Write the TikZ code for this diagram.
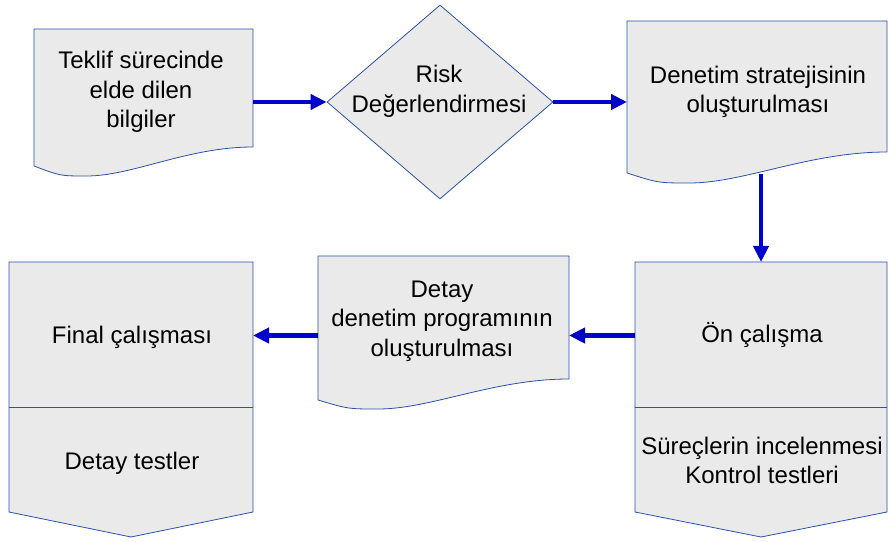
\documentclass[tikz,border=0pt]{standalone}
\usepackage{fontspec}
\setmainfont{Liberation Sans}
\usepackage{xcolor}
\usetikzlibrary{positioning, arrows.meta, shapes.geometric, calc}

\definecolor{boxgray}{RGB}{234,234,234}
\definecolor{edgeblue}{RGB}{45,80,170}
\definecolor{flowblue}{RGB}{0,0,204}

% document outline with a wavy bottom edge: node, left drop, low drop
\newcommand{\docoutline}[3]{%
  \path[shapebox] (#1.north west) -- (#1.north east) -- (#1.south east)
    .. controls ($(#1.south east)!0.3!(#1.south west)$) and ($(#1.south west)!0.45!(#1.south east)+(0,-#3)$)
    .. ($(#1.south west)!0.24!(#1.south east)+(0,-#3)$)
    .. controls ($(#1.south west)!0.12!(#1.south east)+(0,-#3)$)
    .. ($(#1.south west)+(0,-#2)$) -- cycle;
}
% outline with a pointed bottom and a divider: node, point depth, divider offset
\newcommand{\penoutline}[3]{%
  \path[shapebox] (#1.north west) -- (#1.north east) -- (#1.south east)
    -- ($(#1.south)+(0,-#2)$) -- (#1.south west) -- cycle;
  \draw[edge] ($(#1.west)+(0,#3)$) -- ($(#1.east)+(0,#3)$);
}

\begin{document}
\begin{tikzpicture}[
    x=1pt, y=1pt,
    every node/.style={font=\fontsize{24}{29.5}\selectfont},
    body/.style={rectangle, inner sep=0pt, outer sep=0pt},
    shapebox/.style={draw=edgeblue, fill=boxgray, line width=0.8pt},
    edge/.style={draw=edgeblue, line width=0.8pt},
    lbl/.style={align=center, inner sep=0pt, text=black},
    flow/.style={-{Triangle[length=16pt, width=15pt]}, line width=4.5pt, flowblue},
  ]
  \useasboundingbox (0,0) rectangle (888,541);

  % ---- Top row ----
  \node[body, minimum width=219pt, minimum height=118pt] (teklif) at (143.5,453) {};
  \node[diamond, shapebox, minimum width=226pt, minimum height=194pt, inner sep=0pt] (risk) at (440,439) {};
  \node[body, minimum width=260pt, minimum height=131pt] (strateji) at (757,454.5) {};

  % ---- Bottom row ----
  \node[body, minimum width=244pt, minimum height=250pt] (final) at (131,154) {};
  \node[body, minimum width=251pt, minimum height=123pt] (detay) at (443.5,223.5) {};
  \node[body, minimum width=252pt, minimum height=250pt] (on) at (761,154) {};

  % ---- Outlines ----
  \docoutline{teklif}{19}{29}
  \docoutline{strateji}{21}{31}
  \docoutline{detay}{21}{30}
  \penoutline{final}{25}{-20}
  \penoutline{on}{25}{-20}

  % ---- Labels ----
  \node[lbl] (teklifl) at (141,448.75) {Teklif sürecinde\\elde dilen\\bilgiler};
  \node[lbl] (riskl) at (439,449.75) {Risk\\Değerlendirmesi};
  \node[lbl] (stratejil) at (758,449.25) {Denetim stratejisinin\\oluşturulması};
  \node[lbl] (detayl) at (442,219.75) {Detay\\denetim programının\\oluşturulması};
  \node[lbl] (onl) at (762,205.5) {Ön çalışma};
  \node[lbl] (surecl) at (762,80.75) {Süreçlerin incelenmesi\\Kontrol testleri};
  \node[lbl] (finall) at (132,203.25) {Final çalışması};
  \node[lbl] (testl) at (132,77.25) {Detay testler};

  % ---- Arrows ----
  \draw[flow] (teklif.east |- risk.west) -- (risk.west);
  \draw[flow] (risk.east) -- (risk.east -| strateji.west);
  \draw[flow] ($(on.north |- strateji.south)+(0,-22)$) -- (on.north);
  \draw[flow] (on.west |- onl) -- (detay.east |- onl);
  \draw[flow] (detay.west |- onl) -- (final.east |- onl);

\end{tikzpicture}
\end{document}
